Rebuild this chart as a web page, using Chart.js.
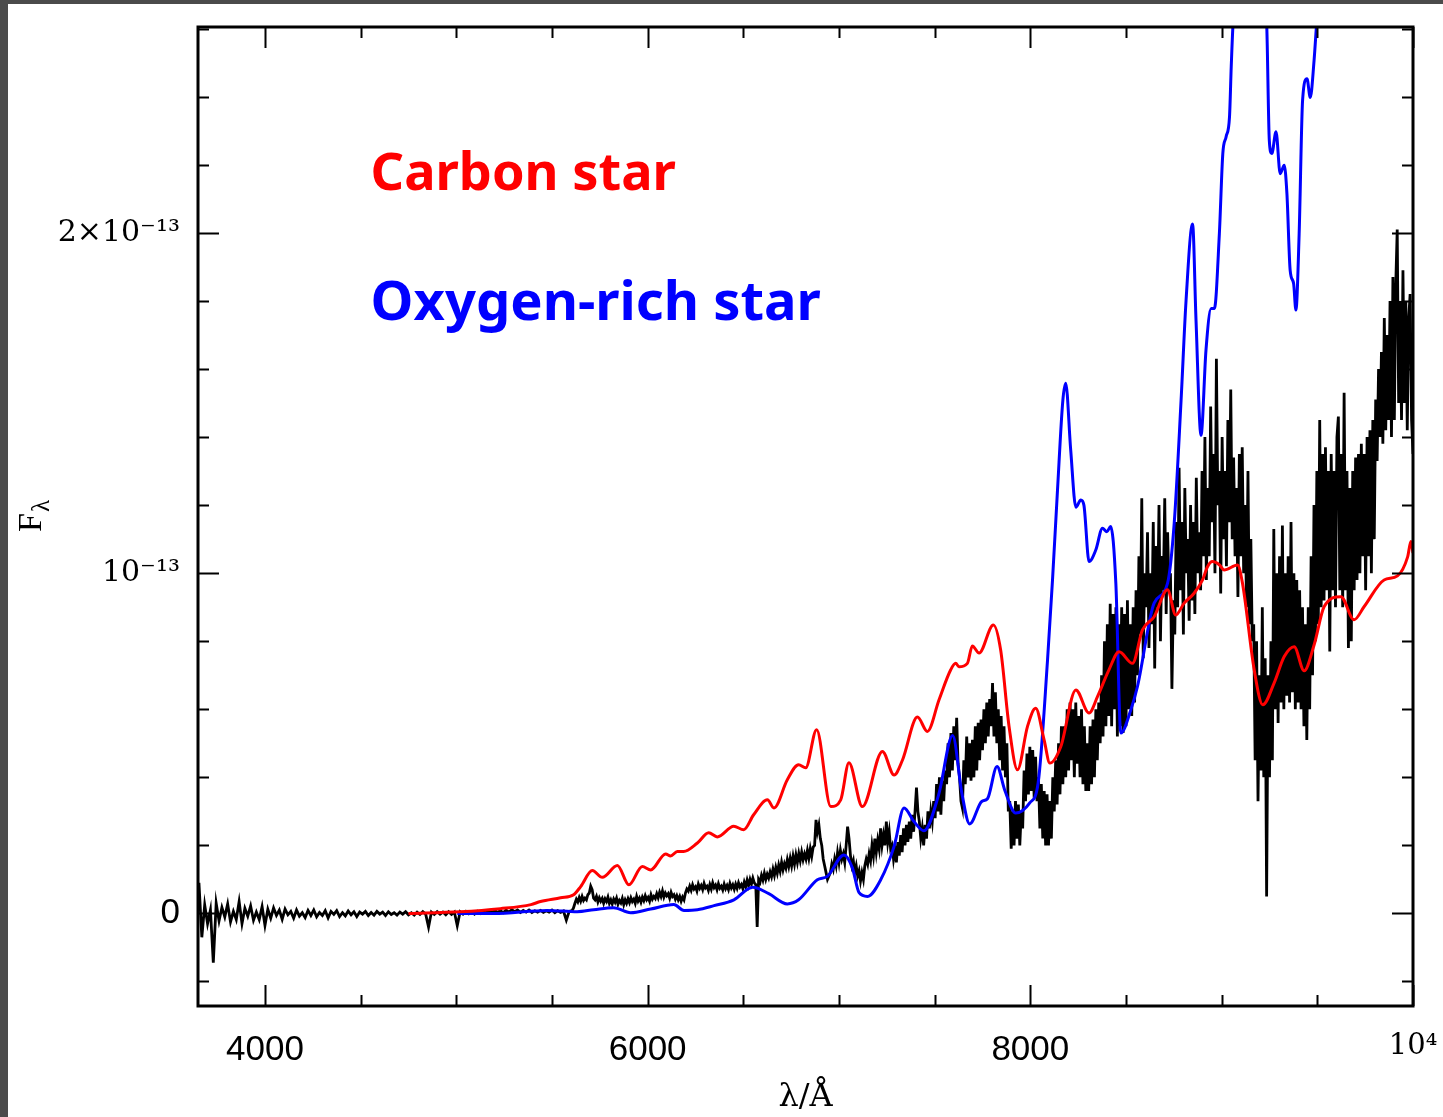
<!DOCTYPE html>
<html>
<head>
<meta charset="utf-8">
<title>Carbon star and oxygen-rich star spectra</title>
<script src="https://cdn.jsdelivr.net/npm/chart.js@4.4.1/dist/chart.umd.min.js"></script>
<style>
  html, body { margin: 0; padding: 0; width: 1443px; height: 1117px; overflow: hidden; background: #4b4b4b; }
  #wrap { position: absolute; left: 8px; top: 4px; width: 1435px; height: 1113px; background: #ffffff; }
  canvas { display: block; }
</style>
</head>
<body>
<div id="wrap"><canvas id="spec" width="1435" height="1113"></canvas></div>
<script>
// Fluxes are in units of 1e-13; wavelengths in Angstrom.

// Carbon star template (red)
const carbonWave = [4750,5020,5230,5390,5440,5545,5613,5650,5711,5763,5842,5902,5972,6016,6094,6120,6155,6188,6260,6319,
  6364,6450,6502,6554,6626,6660,6730,6789,6826,6883,6957,7009,7052,7122,7227,7288,7332,7410,7462,7523,
  7584,7610,7627,7671,7697,7732,7807,7845,7889,7933,7985,8028,8072,8102,8159,8238,8307,8351,8411,8464,
  8534,8586,8647,8717,8760,8804,8856,8900,8926,8952,8989,9013,9083,9109,9170,9215,9274,9327,9379,9431,
  9483,9536,9623,9692,9745,9849,9919,9972,9989,10000];
const carbonFlux = [0.0,0.005,0.014,0.026,0.035,0.046,0.055,0.079,0.126,0.106,0.141,0.084,0.138,0.128,0.175,0.169,0.182,0.182,0.207,0.237,
  0.225,0.256,0.246,0.290,0.334,0.310,0.393,0.437,0.428,0.540,0.314,0.334,0.443,0.314,0.476,0.407,0.451,0.577,0.535,0.628,
  0.716,0.735,0.725,0.735,0.786,0.765,0.848,0.774,0.549,0.422,0.549,0.603,0.510,0.442,0.490,0.657,0.589,0.637,0.716,0.769,
  0.735,0.833,0.872,0.951,0.877,0.912,0.941,0.980,1.019,1.034,1.024,1.009,1.024,0.970,0.716,0.613,0.677,0.755,0.784,0.713,
  0.789,0.902,0.931,0.863,0.902,0.980,0.992,1.048,1.093,1.059];

// Oxygen-rich star template (blue)
const oxygenWave = [5005,5195,5476,5632,5718,5822,5911,6016,6137,6190,6260,6347,6451,6549,6633,6730,6789,6887,6939,7026,
  7070,7105,7149,7218,7288,7340,7392,7444,7521,7594,7642,7683,7746,7776,7826,7866,7924,7997,8041,8090,
  8116,8142,8170,8185,8211,8238,8264,8280,8307,8342,8377,8400,8420,8447,8473,8525,8560,8647,8717,8752,
  8788,8814,8848,8866,8892,8918,8945,8962,8988,9006,9023,9041,9050,9060,9144,9235,9249,9262,9284,9306,
  9327,9341,9358,9376,9388,9405,9423,9446,9463,9483,9497,9540];
const oxygenFlux = [0.0,0.0,0.009,0.005,0.011,0.017,0.002,0.013,0.026,0.009,0.011,0.023,0.040,0.077,0.058,0.028,0.040,0.099,0.109,0.172,
  0.134,0.061,0.050,0.099,0.197,0.310,0.270,0.243,0.349,0.523,0.354,0.263,0.329,0.337,0.432,0.363,0.295,0.325,0.384,0.745,
  0.980,1.244,1.508,1.558,1.362,1.194,1.215,1.200,1.034,1.068,1.132,1.122,1.137,0.970,0.530,0.598,0.667,0.912,0.970,1.147,
  1.509,1.802,2.026,1.743,1.405,1.655,1.778,1.778,1.998,2.233,2.282,2.341,2.488,2.62,3.0,2.62,2.272,2.233,2.297,2.174,
  2.199,2.116,1.890,1.851,1.773,1.998,2.390,2.453,2.398,2.507,2.62,2.9];

// Observed spectrum (black), near-UV part: 3655-5590 Å every 15 Å
const observedUvStart = 3655;
const observedUvStep = 15;
const observedUvFlux = [
  0.09,-0.07,0.025,-0.03,0.01,-0.145,0.03,-0.022,0.018,-0.01,
  0.028,-0.025,0.006,-0.018,0.035,-0.03,0.015,-0.008,0.022,-0.02,
  0.004,-0.018,0.02,-0.035,0.012,-0.014,0.016,-0.006,0.01,-0.017,
  0.013,-0.004,0.006,-0.014,0.01,-0.008,0.002,-0.012,0.009,-0.006,
  0.01,-0.01,0.003,-0.006,0.008,-0.013,0.006,-0.003,0.008,-0.009,
  0.002,-0.007,0.007,-0.004,0.005,-0.009,0.004,-0.002,0.006,-0.006,
  0.003,-0.005,0.006,-0.002,0.004,-0.006,0.005,-0.003,0.002,-0.005,
  0.004,-0.002,0.005,-0.004,0.002,-0.005,0.004,-0.003,0.005,-0.002,
  -0.04,0.004,-0.003,0.005,-0.002,0.004,-0.004,0.005,-0.003,0.004,
  -0.036,0.005,-0.002,0.006,-0.001,0.005,-0.002,0.006,0.0,0.007,
  0.001,0.008,0.002,0.009,0.003,0.008,0.002,0.01,0.004,0.011,
  0.005,0.01,0.003,0.009,0.004,0.01,0.003,0.008,0.004,0.009,
  0.003,0.008,0.004,0.01,0.002,0.008,0.003,0.007,-0.02,0.006
];

// Observed spectrum (black), visible part: 5605-7495 Å every 7.5 Å
const observedVisStart = 5605;
const observedVisStep = 7.5;
const observedVisFlux = [
  0.008,0.016,0.03,0.042,0.034,0.047,0.036,0.05,0.038,0.045,
  0.04,0.055,0.06,0.08,0.07,0.045,0.04,0.05,0.034,0.046,
  0.036,0.044,0.03,0.043,0.035,0.048,0.03,0.04,0.028,0.042,
  0.033,0.045,0.027,0.038,0.031,0.044,0.026,0.04,0.03,0.043,
  0.032,0.046,0.035,0.042,0.03,0.05,0.036,0.045,0.033,0.048,
  0.038,0.052,0.04,0.047,0.036,0.055,0.042,0.05,0.044,0.058,
  0.046,0.062,0.05,0.066,0.048,0.06,0.052,0.058,0.045,0.062,
  0.05,0.055,0.042,0.052,0.04,0.05,0.036,0.048,0.04,0.06,
  0.072,0.066,0.08,0.068,0.084,0.072,0.078,0.066,0.086,0.074,
  0.082,0.07,0.088,0.075,0.08,0.068,0.085,0.072,0.09,0.076,
  0.083,0.07,0.087,0.074,0.08,0.069,0.086,0.073,0.082,0.07,
  0.088,0.075,0.084,0.071,0.086,0.074,0.09,0.078,0.085,0.073,
  0.092,0.079,0.098,0.082,0.1,0.086,0.104,0.09,0.085,-0.04,
  0.1,0.092,0.112,0.098,0.118,0.1,0.115,0.104,0.122,0.108,
  0.13,0.112,0.135,0.118,0.142,0.124,0.15,0.128,0.146,0.133,
  0.158,0.138,0.162,0.14,0.168,0.145,0.172,0.15,0.176,0.155,
  0.18,0.158,0.175,0.16,0.185,0.162,0.19,0.168,0.195,0.2,
  0.275,0.24,0.26,0.22,0.2,0.16,0.14,0.12,0.1,0.11,
  0.12,0.145,0.13,0.16,0.14,0.178,0.15,0.185,0.16,0.175,
  0.15,0.2,0.255,0.22,0.17,0.14,0.155,0.12,0.14,0.11,
  0.125,0.095,0.12,0.1,0.14,0.16,0.145,0.175,0.155,0.2,
  0.17,0.22,0.18,0.215,0.19,0.25,0.2,0.23,0.2,0.27,
  0.21,0.24,0.19,0.2,0.16,0.19,0.15,0.21,0.17,0.23,
  0.18,0.25,0.2,0.26,0.21,0.27,0.22,0.29,0.24,0.3,
  0.37,0.3,0.27,0.22,0.25,0.2,0.26,0.22,0.3,0.25,
  0.3,0.27,0.33
];

// Observed spectrum (black), red part: 7502.5-10000 Å every 7.5 Å
const observedRedStart = 7502.5;
const observedRedStep = 7.5;
const observedRedFlux = [
  0.28,0.38,0.3,0.4,0.29,0.39,0.33,0.42,0.38,0.5,
  0.4,0.53,0.42,0.55,0.45,0.575,0.44,0.4,0.33,0.31,
  0.45,0.38,0.52,0.4,0.5,0.39,0.51,0.4,0.55,0.42,
  0.56,0.45,0.57,0.48,0.6,0.5,0.62,0.52,0.63,0.55,
  0.677,0.52,0.65,0.5,0.6,0.45,0.58,0.42,0.55,0.4,
  0.5,0.3,0.33,0.19,0.3,0.2,0.33,0.22,0.32,0.2,
  0.3,0.25,0.42,0.33,0.47,0.35,0.49,0.36,0.48,0.34,
  0.46,0.33,0.4,0.25,0.38,0.22,0.36,0.2,0.35,0.2,
  0.33,0.22,0.4,0.3,0.45,0.32,0.5,0.35,0.55,0.38,
  0.55,0.4,0.6,0.42,0.62,0.45,0.6,0.4,0.62,0.44,
  0.58,0.4,0.6,0.38,0.55,0.36,0.5,0.36,0.55,0.38,
  0.57,0.4,0.6,0.45,0.62,0.5,0.7,0.52,0.8,0.55,
  0.85,0.58,0.91,0.55,0.88,0.6,0.9,0.52,0.85,0.55,
  0.9,0.53,0.88,0.55,0.92,0.6,0.85,0.58,0.9,0.62,
  0.95,0.7,1.05,0.82,1.22,0.75,1.0,0.9,1.12,0.78,
  1.0,0.85,1.15,0.72,1.08,0.9,1.2,0.8,1.05,0.95,
  1.22,0.88,1.12,0.95,1.0,0.66,0.92,0.82,1.15,0.9,
  1.31,0.95,1.15,0.82,1.25,1.0,1.1,0.86,1.2,0.92,
  1.15,0.88,1.28,1.0,1.12,0.95,1.3,1.05,1.4,0.98,
  1.25,1.05,1.49,1.15,1.35,1.0,1.63,1.2,1.3,0.94,
  1.4,1.1,1.3,1.02,1.45,1.15,1.54,1.1,1.34,1.05,
  1.25,0.93,1.35,1.05,1.37,1.0,1.2,0.9,1.3,0.85,
  1.1,0.8,0.85,0.45,0.8,0.33,0.7,0.42,0.9,0.4,
  0.75,0.05,0.7,0.4,0.8,0.45,1.13,0.6,1.0,0.56,
  1.05,0.62,1.14,0.6,1.0,0.64,1.05,0.62,1.15,0.65,
  1.0,0.6,0.98,0.62,0.95,0.6,0.9,0.55,0.85,0.51,
  0.9,0.6,1.05,0.7,1.2,0.8,1.3,0.85,1.45,0.9,
  1.35,0.92,1.37,0.95,1.3,0.77,1.35,0.95,1.3,0.9,
  1.4,1.46,0.95,1.35,0.9,1.53,0.95,1.3,0.78,1.25,
  0.8,1.3,0.95,1.34,0.98,1.35,1.0,1.38,1.05,1.35,
  0.95,1.4,1.05,1.42,1.0,1.45,1.1,1.51,1.33,1.6,
  1.4,1.65,1.38,1.75,1.42,1.7,1.45,1.8,1.4,1.87,
  1.45,1.85,2.01,1.5,1.8,1.45,1.89,1.5,1.8,1.42,
  1.75,1.82,1.45,1.35
];

// Axis ranges and ticks
const waveMin = 3650, waveMax = 10000;
const fluxMin = -0.272, fluxMax = 2.605;
const xMajorTicks = [4000, 6000, 8000, 10000];
const xMinorStep = 500;
const yMajorTicks = [0, 1, 2];
const yMinorStep = 0.2;

// Labels
const carbonLabel = 'Carbon star';
const oxygenLabel = 'Oxygen-rich star';

const toPoints = (xs, ys) => xs.map((x, i) => ({ x: x, y: ys[i] }));
const gridPoints = (start, step, ys) => ys.map((y, i) => ({ x: start + i * step, y: y }));
const observedPoints = gridPoints(observedUvStart, observedUvStep, observedUvFlux)
  .concat(gridPoints(observedVisStart, observedVisStep, observedVisFlux))
  .concat(gridPoints(observedRedStart, observedRedStep, observedRedFlux));

const xLabel = v => v === 10000 ? '10\u2074' : String(v);
const yLabel = v => v === 0 ? '0' : (v === 1 ? '10\u207B\u00B9\u00B3' : v + '\u00D710\u207B\u00B9\u00B3');

// Keep the plot box exactly where the layout puts it
const noScalePadding = s => { s.paddingLeft = 0; s.paddingRight = 0; s.paddingTop = 0; s.paddingBottom = 0; };

// Inward ticks on all four sides, the box frame, the y title and the star labels
const framePlugin = {
  id: 'frameAndLabels',
  afterDatasetsDraw(chart) {
    const { ctx, chartArea: a, scales: { x, y } } = chart;
    ctx.save();
    ctx.strokeStyle = '#000';
    ctx.lineCap = 'butt';
    ctx.lineWidth = 2;
    ctx.beginPath();
    const firstX = Math.ceil(waveMin / xMinorStep) * xMinorStep;
    for (let v = firstX; v <= waveMax; v += xMinorStep) {
      const px = Math.round(x.getPixelForValue(v)) + 0.5;
      const len = xMajorTicks.includes(v) ? 21 : 11;
      ctx.moveTo(px, a.bottom); ctx.lineTo(px, a.bottom - len);
      ctx.moveTo(px, a.top); ctx.lineTo(px, a.top + len);
    }
    for (let k = Math.ceil(fluxMin / yMinorStep); k * yMinorStep <= fluxMax + 1e-9; k++) {
      const v = +(k * yMinorStep).toFixed(6);
      const py = Math.round(y.getPixelForValue(v)) + 0.5;
      const len = yMajorTicks.includes(v) ? 21 : 11;
      ctx.moveTo(a.left, py); ctx.lineTo(a.left + len, py);
      ctx.moveTo(a.right, py); ctx.lineTo(a.right - len, py);
    }
    ctx.stroke();
    ctx.lineWidth = 3;
    ctx.strokeRect(a.left, a.top, a.right - a.left, a.bottom - a.top);

    // y-axis title F_lambda, rotated
    ctx.fillStyle = '#000';
    ctx.translate(33, 528);
    ctx.rotate(-Math.PI / 2);
    ctx.textBaseline = 'alphabetic';
    ctx.textAlign = 'left';
    ctx.font = '34px "Liberation Serif"';
    ctx.fillText('F', 0, 0);
    const fw = ctx.measureText('F').width;
    ctx.font = '25px "Liberation Serif"';
    ctx.fillText('\u03BB', fw + 1, 8);
    ctx.restore();

    // star labels
    const drawFitted = (text, color, wave, flux, width) => {
      ctx.save();
      ctx.font = 'bold 50px "Noto Sans"';
      const size = 50 * width / ctx.measureText(text).width;
      ctx.font = 'bold ' + size.toFixed(1) + 'px "Noto Sans"';
      ctx.fillStyle = color;
      ctx.textAlign = 'left';
      ctx.textBaseline = 'alphabetic';
      ctx.fillText(text, x.getPixelForValue(wave), y.getPixelForValue(flux));
      ctx.restore();
    };
    drawFitted(carbonLabel, '#ff0000', 4552, 2.125, 305);
    drawFitted(oxygenLabel, '#0000ff', 4552, 1.744, 450);
  }
};

new Chart(document.getElementById('spec'), {
  type: 'line',
  data: {
    datasets: [
      { label: carbonLabel, data: toPoints(carbonWave, carbonFlux), borderColor: '#ff0000', borderWidth: 3,
        cubicInterpolationMode: 'monotone', pointRadius: 0, fill: false },
      { label: oxygenLabel, data: toPoints(oxygenWave, oxygenFlux), borderColor: '#0000ff', borderWidth: 3,
        cubicInterpolationMode: 'monotone', pointRadius: 0, fill: false },
      { label: 'Observed', data: observedPoints, borderColor: '#000000', borderWidth: 2.8,
        tension: 0, pointRadius: 0, fill: false }
    ]
  },
  options: {
    responsive: false,
    animation: false,
    devicePixelRatio: 1,
    layout: { padding: { left: 0, right: 30, top: 23, bottom: 0 } },
    plugins: { legend: { display: false }, tooltip: { enabled: false } },
    scales: {
      x: {
        type: 'linear', min: waveMin, max: waveMax,
        afterFit(s) { s.height = 111; noScalePadding(s); },
        afterBuildTicks(s) { s.ticks = xMajorTicks.map(v => ({ value: v })); },
        grid: { display: false, drawTicks: false },
        border: { display: false },
        ticks: {
          padding: 23, autoSkip: false, maxRotation: 0, minRotation: 0, color: '#000',
          font: c => (c.tick && c.tick.value === 10000) ? { family: 'DejaVu Serif', size: 29 } : { family: 'Liberation Sans', size: 35 },
          callback: v => xLabel(v)
        },
        title: { display: true, text: '\u03BB/\u00C5', color: '#000', font: { family: 'DejaVu Serif', size: 32 }, padding: 0 }
      },
      y: {
        type: 'linear', min: fluxMin, max: fluxMax,
        afterFit(s) { s.width = 190; noScalePadding(s); },
        afterBuildTicks(s) { s.ticks = yMajorTicks.map(v => ({ value: v })); },
        grid: { display: false, drawTicks: false },
        border: { display: false },
        ticks: {
          padding: 18, autoSkip: false, color: '#000',
          font: c => (c.tick && c.tick.value === 0) ? { family: 'Liberation Sans', size: 35 } : { family: 'DejaVu Serif', size: 30 },
          callback: v => yLabel(v)
        }
      }
    }
  },
  plugins: [framePlugin]
});
</script>
</body>
</html>
